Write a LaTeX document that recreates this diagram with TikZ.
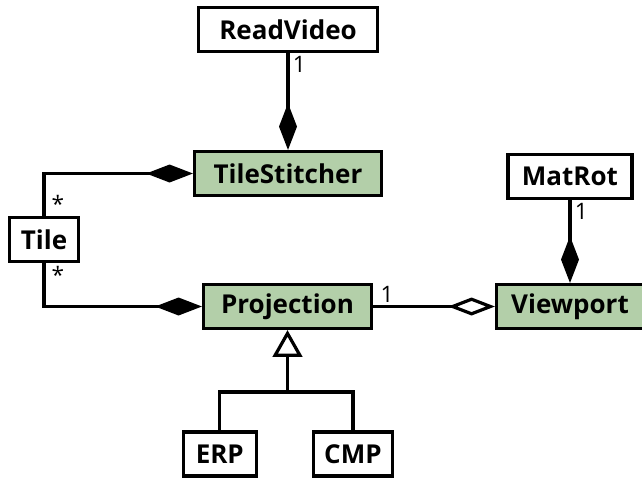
\documentclass[tikz,border=0pt]{standalone}
\usepackage{fontspec}
\setmainfont{Open Sans}
\usetikzlibrary{arrows.meta}
\definecolor{verde}{RGB}{179,207,169}
\tikzset{
  clasa/.style={draw, line width=2.4pt, inner sep=0pt, minimum height=33pt,
    font=\bfseries\fontsize{19.5}{22}\selectfont},
  activ/.style={clasa, fill=verde},
  compus/.style={line width=2.4pt, -{Diamond[length=35pt,width=13.5pt]}},
  agregat/.style={line width=2.4pt, -{Diamond[open,length=35pt,width=13.5pt,fill=white]}},
  mosten/.style={line width=2.4pt, -{Triangle[open,length=20pt,width=22pt,fill=white]}},
  legat/.style={line width=2.4pt},
  mult/.style={font=\fontsize{17}{20}\selectfont, inner sep=1.5pt}
}
\begin{document}
\begin{tikzpicture}[x=0.75pt,y=-0.75pt]
  % cadrul imaginii (in pixeli)
  \useasboundingbox (0,0) rectangle (642,480);

  % clasele
  \node[clasa, minimum width=134.25pt] (rv) at (288,29.5) {ReadVideo};
  \node[activ, minimum width=140.25pt] (ts) at (288,173.5) {TileStitcher};
  \node[clasa, minimum width=51.75pt] (tile) at (44,239.5) {Tile};
  \node[clasa, minimum width=93pt] (mr) at (570,176.5) {MatRot};
  \node[activ, minimum width=126pt] (proj) at (287.5,306.5) {Projection};
  \node[activ, minimum width=110.25pt] (vp) at (570,306.5) {Viewport};
  \node[clasa, minimum width=55pt] (erp) at (219.8,454) {ERP};
  \node[clasa, minimum width=59.25pt] (cmp) at (352.9,454) {CMP};

  % compuneri
  \draw[compus] (rv.south) -- (ts.north) node[mult,pos=0,anchor=north west,xshift=1pt] {1};
  \draw[compus] (tile.north) |- (ts.west) node[mult,pos=0,anchor=south west,xshift=3pt] {*};
  \draw[compus] (tile.south) |- (proj.west) node[mult,pos=0,anchor=north west,xshift=3pt] {*};
  \draw[compus] (mr.south) -- (vp.north) node[mult,pos=0,anchor=north west,xshift=1pt] {1};

  % agregare
  \draw[agregat] (proj.east) -- (vp.west) node[mult,pos=0,anchor=south west,xshift=3pt] {1};

  % mostenire
  \coordinate (ramif) at (287.5,392);
  \draw[mosten] (erp.north) |- (ramif) -- (proj.south);
  \draw[legat] (cmp.north) |- (ramif);
\end{tikzpicture}
\end{document}
